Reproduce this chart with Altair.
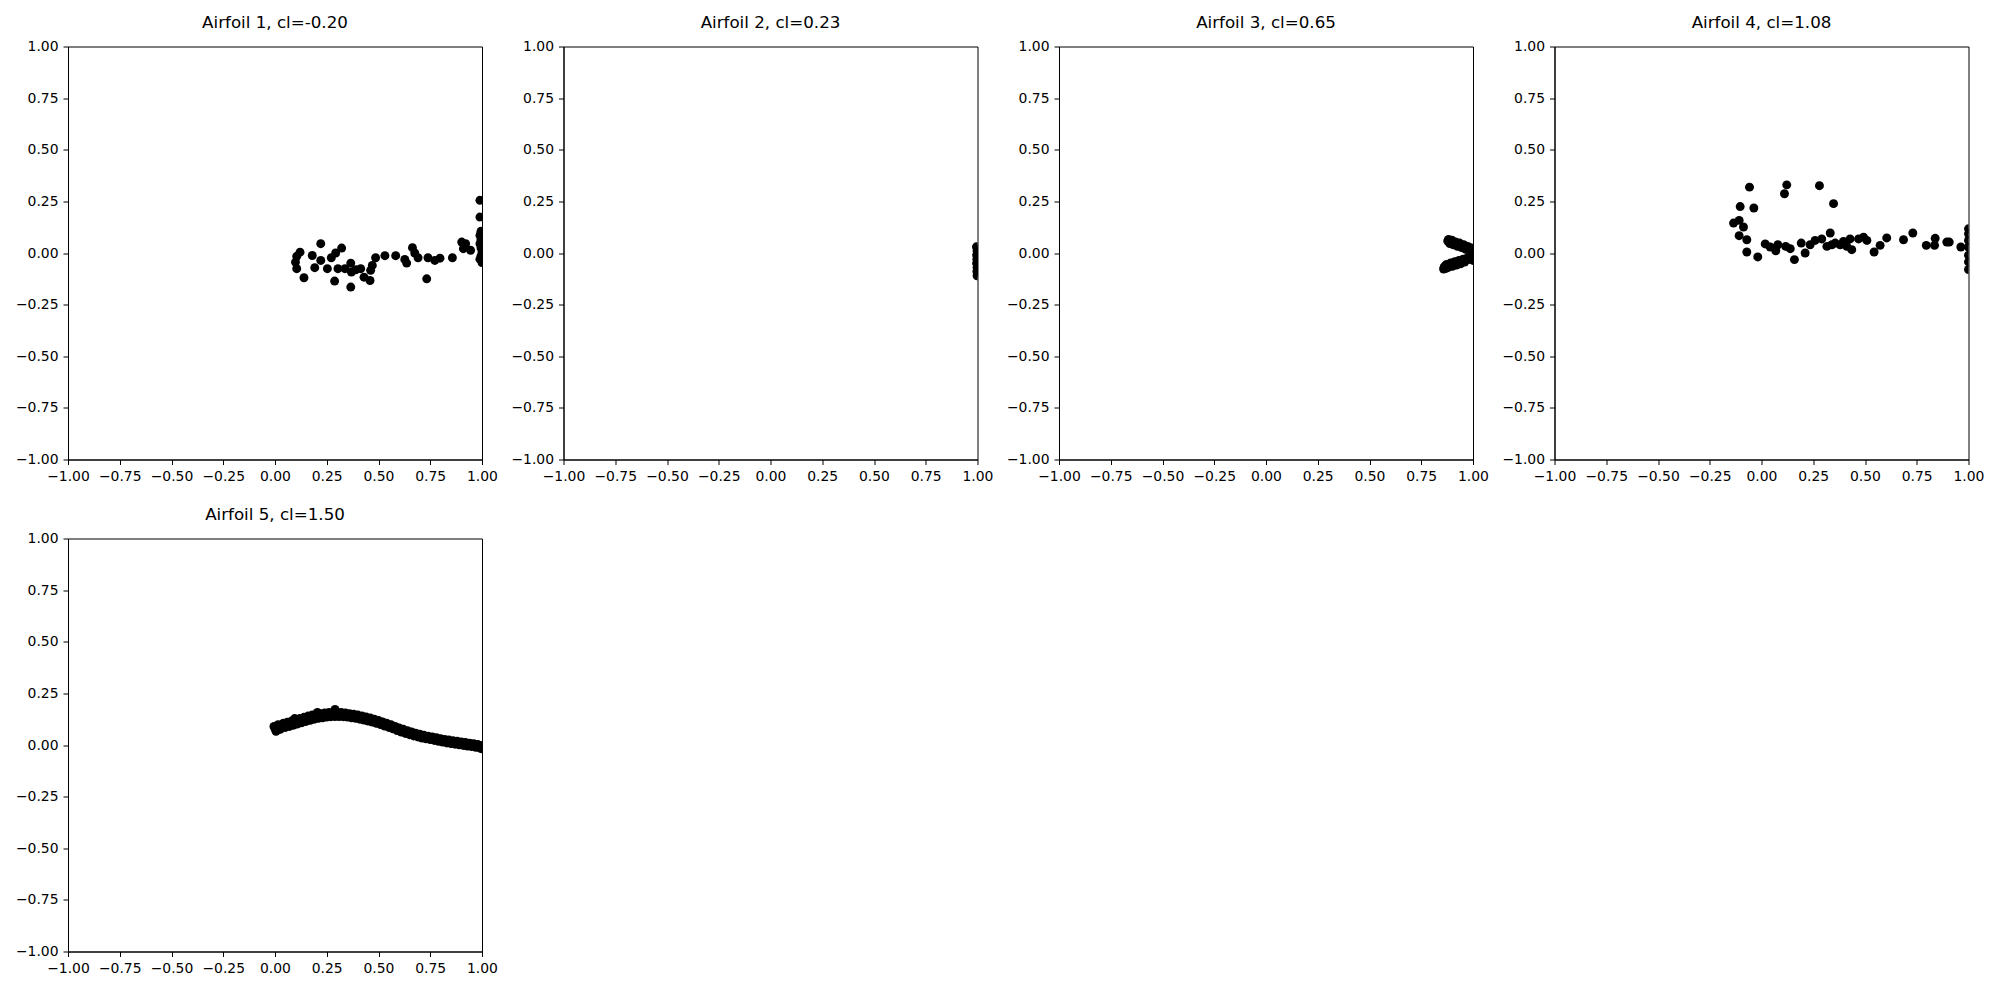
import altair as alt
import pandas as pd

cl_values = [-0.20, 0.23, 0.65, 1.08, 1.50]

p1_x = [0.121, 0.105, 0.099, 0.105, 0.14, 0.221, 0.18, 0.192, 0.221, 0.253, 0.272, 0.293, 0.322, 0.288,
        0.304, 0.338, 0.366, 0.369, 0.366, 0.39, 0.414, 0.43, 0.459, 0.462, 0.47, 0.486, 0.531, 0.583,
        0.627, 0.636, 0.664, 0.675, 0.691, 0.733, 0.739, 0.772, 0.797, 0.857, 0.902, 0.921, 0.91, 0.945,
        0.99, 0.99, 0.995, 0.99, 0.995, 0.99, 0.995, 1.0, 0.995, 0.99, 1.0]
p1_y = [0.004, -0.016, -0.044, -0.076, -0.12, 0.045, -0.012, -0.071, -0.036, -0.076, -0.023, 0.0, 0.024, -0.136,
        -0.076, -0.076, -0.049, -0.092, -0.165, -0.081, -0.076, -0.117, -0.133, -0.084, -0.06, -0.023, -0.013, -0.013,
        -0.031, -0.049, 0.026, 0.0, -0.023, -0.125, -0.023, -0.036, -0.025, -0.023, 0.053, 0.045, 0.021, 0.013,
        0.255, 0.174, 0.105, 0.085, 0.064, 0.045, 0.025, 0.005, -0.015, -0.03, -0.046]

p2_x = [0.995, 1.0, 0.998, 1.0, 0.996, 1.0, 0.997, 1.0, 0.996, 1.0, 0.998, 1.0, 0.997, 1.0, 0.998,
        0.999, 0.999, 0.999, 0.999]
p2_y = [0.030, 0.020, 0.010, 0.0, -0.010, -0.020, -0.030, -0.040, -0.050, -0.060, -0.070, -0.080, -0.090, -0.100, -0.110,
        -0.005, -0.045, -0.085, 0.015]

p3_x = [0.878, 0.885, 0.890, 0.900, 0.910, 0.920, 0.930, 0.940, 0.950, 0.960, 0.970, 0.980, 0.990, 1.0, 1.0,
        0.888, 0.905, 0.925, 0.945, 0.965, 0.985, 0.882, 0.898, 0.915, 0.935, 0.955, 0.975, 0.995,
        0.860, 0.865, 0.875, 0.885, 0.895, 0.905, 0.915, 0.925, 0.935, 0.945, 0.955, 0.965, 0.975, 0.985, 0.995, 1.0,
        0.872, 0.892, 0.912, 0.932, 0.952, 0.972, 0.992, 1.0, 1.0, 0.858, 0.870, 0.880, 0.900, 0.920, 0.940, 0.960]
p3_y = [0.058, 0.062, 0.052, 0.056, 0.046, 0.048, 0.040, 0.042, 0.032, 0.034, 0.024, 0.026, 0.016, 0.020, 0.008,
        0.046, 0.040, 0.032, 0.026, 0.018, 0.010, 0.066, 0.062, 0.054, 0.048, 0.040, 0.032, 0.024,
        -0.070, -0.062, -0.064, -0.058, -0.056, -0.052, -0.050, -0.046, -0.044, -0.040, -0.038, -0.034, -0.032, -0.028, -0.026, -0.022,
        -0.056, -0.048, -0.042, -0.036, -0.030, -0.024, -0.014, -0.004, -0.036, -0.078, -0.074, -0.070, -0.064, -0.058, -0.052, -0.044]

p4_x = [-0.135, -0.108, -0.103, -0.058, -0.037, -0.087, -0.108, -0.071, -0.071, -0.018, 0.018, 0.042, 0.069, 0.079,
        0.111, 0.122, 0.117, 0.139, 0.159, 0.192, 0.211, 0.235, 0.259, 0.280, 0.291, 0.316, 0.332, 0.348, 0.34,
        0.356, 0.380, 0.396, 0.412, 0.428, 0.436, 0.469, 0.493, 0.509, 0.544, 0.573, 0.605, 0.686, 0.731, 0.796,
        0.836, 0.839, 0.895, 0.907, 0.963, 1.0, 1.0, 1.0, 1.0, 1.0, 1.0, 1.0]
p4_y = [0.145, 0.158, 0.225, 0.319, 0.218, 0.126, 0.084, 0.064, 0.005, -0.019, 0.044, 0.029, 0.011, 0.040,
        0.287, 0.330, 0.032, 0.021, -0.032, 0.048, 0.0, 0.040, 0.061, 0.326, 0.068, 0.032, 0.097, 0.239, 0.040,
        0.048, 0.040, 0.056, 0.032, 0.068, 0.016, 0.068, 0.077, 0.061, 0.005, 0.037, 0.073, 0.064, 0.097, 0.037,
        0.037, 0.071, 0.053, 0.053, 0.029, 0.117, 0.093, 0.061, 0.029, -0.011, -0.043, -0.080]

p5_x = [-0.005, 0.005, 0.0, 0.015, 0.025, 0.04, 0.05, 0.06, 0.07, 0.08, 0.09, 0.10, 0.11, 0.12, 0.13, 0.14, 0.15,
        0.16, 0.17, 0.18, 0.19, 0.20, 0.21, 0.22, 0.23, 0.24, 0.25, 0.26, 0.27, 0.28, 0.29, 0.29, 0.30, 0.31,
        0.32, 0.33, 0.34, 0.35, 0.36, 0.37, 0.38, 0.39, 0.40, 0.41, 0.42, 0.43, 0.44, 0.45, 0.46, 0.47, 0.48,
        0.49, 0.50, 0.51, 0.52, 0.53, 0.54, 0.55, 0.56, 0.57, 0.58, 0.59, 0.60, 0.61, 0.62, 0.63, 0.64, 0.65,
        0.66, 0.67, 0.68, 0.69, 0.70, 0.71, 0.72, 0.73, 0.74, 0.75, 0.76, 0.77, 0.78, 0.79, 0.80, 0.81, 0.82,
        0.83, 0.84, 0.85, 0.86, 0.87, 0.88, 0.89, 0.90, 0.91, 0.92, 0.93, 0.94, 0.95, 0.96, 0.97, 0.98, 0.99,
        1.0, 1.0, 0.01, 0.095, 0.205]
p5_y = [0.090, 0.066, 0.080, 0.098, 0.076, 0.105, 0.085, 0.110, 0.090, 0.116, 0.096, 0.122, 0.102, 0.128, 0.108,
        0.134, 0.114, 0.140, 0.120, 0.145, 0.125, 0.149, 0.129, 0.152, 0.132, 0.155, 0.135, 0.157, 0.137, 0.158,
        0.172, 0.138, 0.158, 0.138, 0.157, 0.137, 0.155, 0.135, 0.152, 0.132, 0.149, 0.129, 0.145, 0.125, 0.141,
        0.121, 0.136, 0.116, 0.131, 0.111, 0.125, 0.105, 0.119, 0.099, 0.112, 0.092, 0.105, 0.085, 0.098, 0.078,
        0.090, 0.070, 0.083, 0.063, 0.076, 0.056, 0.069, 0.050, 0.063, 0.044, 0.057, 0.039, 0.052, 0.034, 0.047,
        0.030, 0.043, 0.026, 0.039, 0.022, 0.035, 0.018, 0.031, 0.014, 0.027, 0.010, 0.024, 0.007, 0.021, 0.004,
        0.018, 0.001, 0.015, -0.002, 0.012, -0.005, 0.009, -0.008, 0.006, -0.011, 0.002, -0.015, -0.002, -0.018,
        0.072, 0.128, 0.158]

panels = [(p1_x, p1_y), (p2_x, p2_y), (p3_x, p3_y), (p4_x, p4_y), (p5_x, p5_y)]
tick_vals = [-1.0, -0.75, -0.5, -0.25, 0.0, 0.25, 0.5, 0.75, 1.0]

charts = []
for i, ((xs, ys), cl) in enumerate(zip(panels, cl_values)):
    df = pd.DataFrame({"x": xs, "y": ys})
    c = alt.Chart(df).mark_circle(size=80, color="black", opacity=1, clip=True).encode(
        x=alt.X("x:Q", scale=alt.Scale(domain=[-1, 1], nice=False, zero=False),
                axis=alt.Axis(values=tick_vals, format=".2f", title=None)),
        y=alt.Y("y:Q", scale=alt.Scale(domain=[-1, 1], nice=False, zero=False),
                axis=alt.Axis(values=tick_vals, format=".2f", title=None)),
    ).properties(
        width=414, height=413,
        title=alt.TitleParams(f"Airfoil {i + 1}, cl={cl:.2f}", anchor="middle", frame="group"),
    )
    charts.append(c)

chart = alt.concat(*charts, columns=4, spacing={"row": 21, "column": 11.5}).properties(
    padding={"left": 14, "top": 13.5, "right": 5, "bottom": 5},
    background="white",
).configure_view(
    stroke="black", strokeWidth=1
).configure_axis(
    grid=False, domainColor="black", domainWidth=1, tickColor="black", tickWidth=1,
    tickSize=5, labelPadding=5, labelColor="black", labelFont="DejaVu Sans", labelFontSize=13.9,
    labelFlush=False, labelOverlap=False
).configure_title(
    font="DejaVu Sans", fontSize=16.7, fontWeight="normal", color="black", offset=8
)

chart.save("out.html", embed_options={"renderer": "svg", "actions": False})
